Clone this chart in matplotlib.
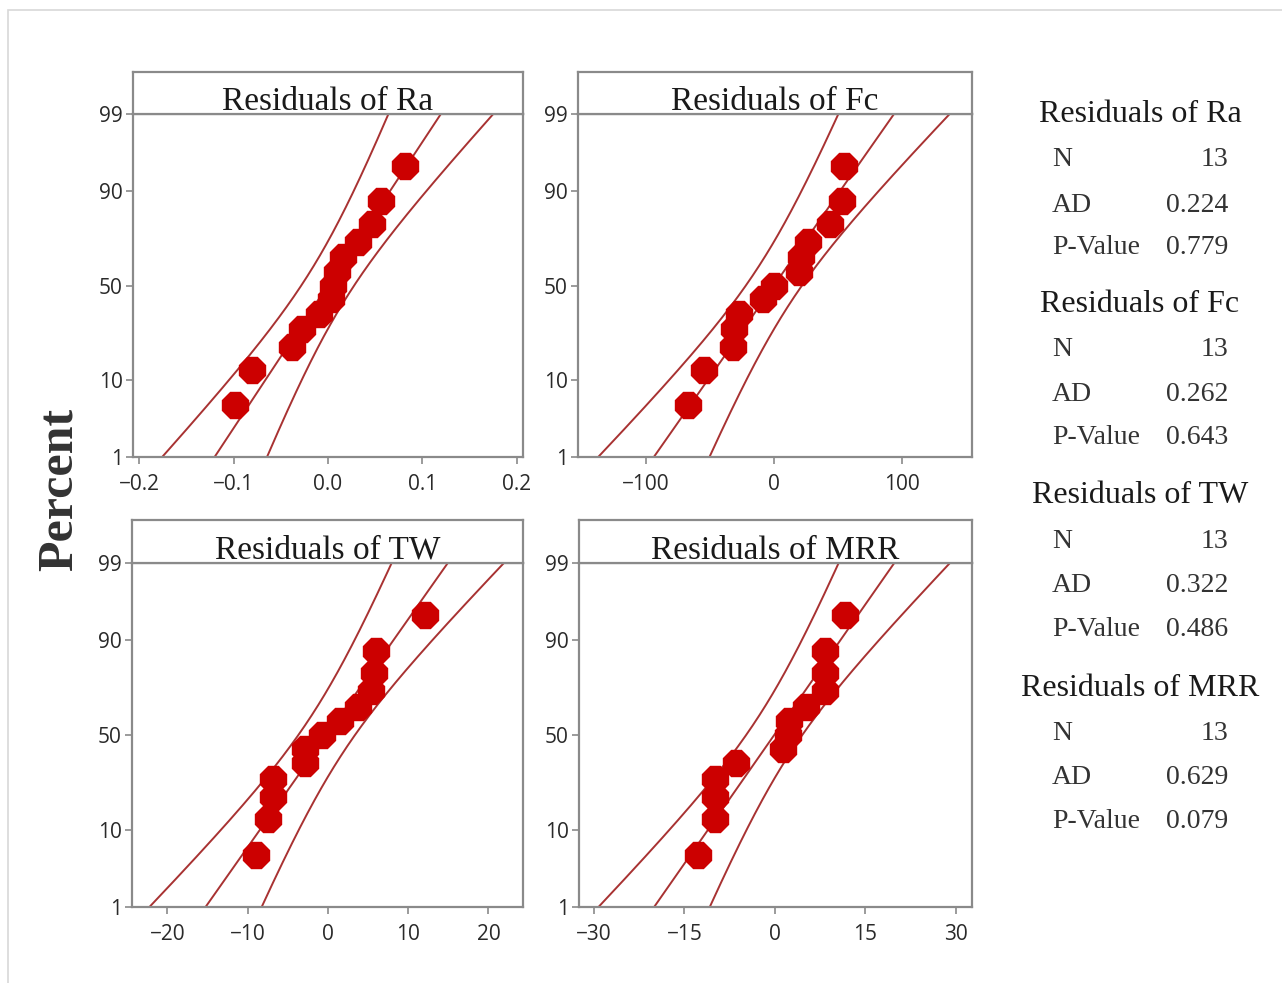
import numpy as np
import matplotlib.pyplot as plt
from matplotlib.patches import Rectangle
from statistics import NormalDist

# residuals (sorted)
ra_resid = [-0.098, -0.080, -0.038, -0.028, -0.010, 0.003, 0.005, 0.009, 0.016, 0.032, 0.047, 0.056, 0.082]
fc_resid = [-66.7, -54.2, -32.0, -30.7, -27.3, -8.1, 0.5, 20.1, 21.4, 26.6, 44.3, 53.4, 54.7]
tw_resid = [-9.0, -7.4, -6.8, -6.8, -2.9, -2.8, -0.7, 1.5, 3.7, 5.4, 5.7, 6.0, 12.1]
mrr_resid = [-12.8, -9.9, -9.9, -9.9, -6.5, 1.3, 2.2, 2.3, 5.2, 8.3, 8.3, 8.3, 11.6]

names = ['Ra', 'Fc', 'TW', 'MRR']
ad_values = ['0.224', '0.262', '0.322', '0.629']
p_values = ['0.779', '0.643', '0.486', '0.079']

pct_ticks = [1, 10, 50, 90, 99]
ra_xticks = [-0.2, -0.1, 0.0, 0.1, 0.2]
fc_xticks = [-100, 0, 100]
tw_xticks = [-20, -10, 0, 10, 20]
mrr_xticks = [-30, -15, 0, 15, 30]

nd = NormalDist()
W, H = 1282, 983
SERIF = ['Liberation Serif', 'DejaVu Serif']
SANS = ['Open Sans', 'DejaVu Sans']
LINE_COL = '#a83232'
DOT_COL = '#cc0000'
SPINE_COL = '#8a8a8a'


def box(l, t, r, b):
    return [l / W, 1 - b / H, (r - l) / W, (b - t) / H]


def prob_plot(fig, resid, name, xticks, xlabels, xlim, left, right, top, line99, bottom):
    ax = fig.add_axes(box(left, line99, right, bottom))
    hd = fig.add_axes(box(left, top, right, line99))
    x = np.sort(np.array(resid, dtype=float))
    n = len(x)
    pos = (np.arange(1, n + 1) - 0.3) / (n + 0.4)
    z = np.array([nd.inv_cdf(p) for p in pos])
    mu, s = x.mean(), x.std(ddof=1)

    zlo, zhi = nd.inv_cdf(0.01), nd.inv_cdf(0.99)
    zz = np.linspace(zlo, zhi, 200)
    centre = mu + s * zz
    half = 1.96 * s * np.sqrt(1.0 / n + zz ** 2 / (2 * (n - 1)))
    for xs in (centre, centre - half, centre + half):
        ax.plot(xs, zz, color=LINE_COL, lw=1.4)
    ax.plot(x, z, linestyle='none', marker='8', ms=20, color=DOT_COL, mec=DOT_COL)

    ax.set_xlim(*xlim)
    ax.set_ylim(zlo, zhi)
    ax.set_yticks([nd.inv_cdf(p / 100) for p in pct_ticks])
    ax.set_yticklabels([str(p) for p in pct_ticks])
    ax.set_xticks(xticks)
    ax.set_xticklabels(xlabels)
    ax.tick_params(length=5, width=1.2, color=SPINE_COL, labelsize=15, labelcolor='#2a2a2a')
    ax.tick_params(axis='x', pad=7)
    ax.tick_params(axis='y', pad=2.5)
    for lab in ax.get_xticklabels() + ax.get_yticklabels():
        lab.set_family(SANS)
    for sp in ax.spines.values():
        sp.set_color(SPINE_COL)
        sp.set_linewidth(1.6)

    hd.set_xticks([])
    hd.set_yticks([])
    for sp in hd.spines.values():
        sp.set_color(SPINE_COL)
        sp.set_linewidth(1.6)
    hd.text(0.5, 0.1, 'Residuals of ' + name, ha='center', va='baseline',
            fontsize=24, family=SERIF, color='#1a1a1a', transform=hd.transAxes)


fig = plt.figure(figsize=(W / 100, H / 100), dpi=100)
fig.patches.append(Rectangle((8 / W, -0.1), 1.2, 1 - 10 / H + 0.1, transform=fig.transFigure,
                             fill=False, edgecolor='#d8d8d8', lw=1.2))

prob_plot(fig, ra_resid, 'Ra', ra_xticks, ['\u22120.2', '\u22120.1', '0.0', '0.1', '0.2'],
          (-0.2064, 0.2064), 133, 523, 72, 114, 457)
prob_plot(fig, fc_resid, 'Fc', fc_xticks, ['\u2212100', '0', '100'],
          (-153, 155), 578, 972, 72, 114, 457)
prob_plot(fig, tw_resid, 'TW', tw_xticks, ['\u221220', '\u221210', '0', '10', '20'],
          (-24.4, 24.3), 132, 523, 520, 563, 907)
prob_plot(fig, mrr_resid, 'MRR', mrr_xticks, ['\u221230', '\u221215', '0', '15', '30'],
          (-32.5, 32.7), 579, 972, 520, 563, 907)

fig.text(60 / W, 1 - 489 / H, 'Percent', rotation=90, ha='center', va='center',
         fontsize=36, fontweight='bold', family=SERIF, color='#333333')

# summary table on the right
block_top = [115, 305, 496, 688]
for name, ad, pv, yh in zip(names, ad_values, p_values, block_top):
    fig.text(1140 / W, 1 - yh / H, 'Residuals of ' + name, ha='center', va='center',
             fontsize=23, family=SERIF, color='#1a1a1a')
    rows = [('N', str(len(ra_resid))), ('AD', ad), ('P-Value', pv)]
    for (lab, val), dy in zip(rows, [45, 90, 133]):
        fig.text(1052 / W, 1 - (yh + dy) / H, lab, ha='left', va='center',
                 fontsize=20, family=SERIF, color='#333333')
        fig.text(1228 / W, 1 - (yh + dy) / H, val, ha='right', va='center',
                 fontsize=20, family=SERIF, color='#333333')

fig.savefig('out.png', dpi=100)
